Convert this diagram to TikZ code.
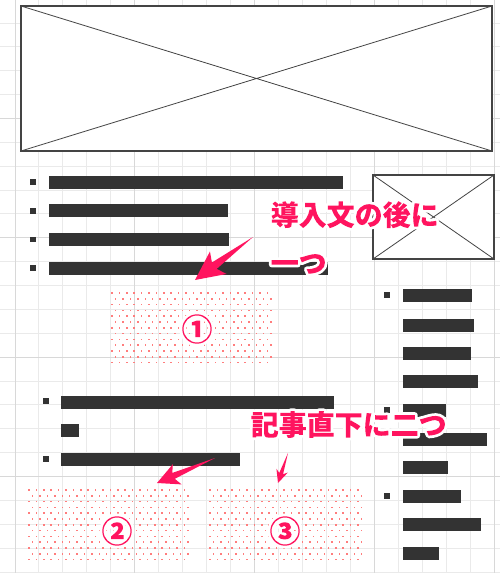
\documentclass[tikz,border=0pt]{standalone}
\usepackage{fontspec}
\usetikzlibrary{calc}
\newfontfamily\jpfont{Noto Sans CJK JP}
\definecolor{pinkc}{RGB}{255,20,95}
\definecolor{dotc}{RGB}{255,125,125}
\definecolor{barc}{RGB}{51,51,51}
\definecolor{gridminor}{RGB}{234,234,234}
\definecolor{gridmajor}{RGB}{216,216,216}
\definecolor{framec}{RGB}{68,68,68}
% white outline round glyphs: fill+stroke+clip, then refill inside the glyphs
\makeatletter
\newcommand\haloon{\pgfsys@invoke{1 1 1 RG 5.5 w 1 j 1 J 6 Tr}}
\newcommand\halooff{\pgfsys@invoke{-3000 -3000 6000 6000 re f 0 Tr}}
\makeatother
% #1 tail, #2 tip, #3 head length, #4 head half width, #5 notch length, #6 shaft half width
\newcommand\pinkarrow[6]{%
  \coordinate (#1-h) at ($(#2)!#3pt!(#1)$);
  \coordinate (#1-n) at ($(#2)!#5pt!(#1)$);
  \fill[pinkc] (#2) -- ($(#1-h)!#4pt!90:(#1)$) -- ($(#1-n)!#6pt!90:(#1)$) -- (#1)
     -- ($(#1-n)!#6pt!-90:(#1)$) -- ($(#1-h)!#4pt!-90:(#1)$) -- cycle;
}
% #1 x0, #2 y0, #3 last column, #4 last row
\newcommand\dotfield[4]{%
  \foreach \r in {0,...,#4}{\foreach \c in {0,...,#3}{%
    \fill[dotc] ({#1+\c*7.4+mod(\r,2)*3.7-0.75},{#2+\r*5.8-0.75}) rectangle ++(1.5,1.5);}}%
}
\tikzset{
  frame/.style={draw=framec, line width=1.1pt},
  cross/.style={draw=framec, line width=0.8pt},
  lbl/.style={font=\jpfont\bfseries\fontsize{28}{48}\selectfont, text=pinkc, inner sep=0pt, align=left},
  num/.style={font=\jpfont\bfseries\fontsize{31}{35}\selectfont, text=pinkc, inner sep=0pt},
}
\begin{document}
\begin{tikzpicture}[x=1pt,y=-1pt]
\useasboundingbox (0,0) rectangle (500,573);
\fill[white] (0,0) rectangle (500,573);
% grid
\foreach \k in {0,...,20}{\draw[gridminor, line width=1pt] ({15+23.95*\k},0) -- ({15+23.95*\k},573);}
\foreach \k in {0,...,23}{\draw[gridminor, line width=1pt] (0,{23+23.87*\k}) -- (500,{23+23.87*\k});}
\foreach \k in {0,5,10,15,20}{\draw[gridmajor, line width=1pt] ({15+23.95*\k},0) -- ({15+23.95*\k},573);}
\foreach \k in {4,9,14,19}{\draw[gridmajor, line width=1pt] (0,{23+23.87*\k}) -- (500,{23+23.87*\k});}
% large image placeholder
\fill[white] (21,6) rectangle (492,151);
\draw[cross] (21,6) -- (492,151) (21,151) -- (492,6);
\draw[frame] (21,6) rectangle (492,151);
% small image placeholder
\fill[white] (373,175) rectangle (494,259);
\draw[cross] (373,175) -- (494,259) (373,259) -- (494,175);
\draw[frame] (373,175) rectangle (494,259);
% first list
\foreach \y in {179,208,236.5,265}{\fill[barc] (30,\y) rectangle (36,{\y+5.5});}
\fill[barc] (49,176) rectangle (343,189);
\fill[barc] (49,204) rectangle (228,217);
\fill[barc] (49,233) rectangle (229,246);
\fill[barc] (49,262) rectangle (328,275);
% second list
\foreach \y in {398,456}{\fill[barc] (43,\y) rectangle (48.5,{\y+5.5});}
\fill[barc] (61,396) rectangle (334,409);
\fill[barc] (61,424) rectangle (79,437);
\fill[barc] (61,453) rectangle (240,466);
% right list
\foreach \y in {292,407,493}{\fill[barc] (384,\y) rectangle (390,{\y+5.5});}
\fill[barc] (403,289) rectangle (472,302);
\fill[barc] (403,319) rectangle (474,332);
\fill[barc] (403,347) rectangle (471,360);
\fill[barc] (403,375) rectangle (478,388);
\fill[barc] (403,404) rectangle (446,417);
\fill[barc] (403,433) rectangle (487,446);
\fill[barc] (403,461) rectangle (448,474);
\fill[barc] (403,490) rectangle (461,503);
\fill[barc] (403,518) rectangle (481,531);
\fill[barc] (403,547) rectangle (439,560);
% dotted ad areas
\dotfield{112}{293}{21}{12}
\dotfield{29}{490}{21}{12}
\dotfield{210}{490}{20}{12}
% circled numbers
\begin{scope}\node[num] (n1) at (197,329) {\haloon ①\halooff};\end{scope}
\begin{scope}\node[num] (n2) at (117,531) {\haloon ②\halooff};\end{scope}
\begin{scope}\node[num] (n3) at (285,531) {\haloon ③\halooff};\end{scope}
% arrows
\coordinate (a1s) at (253,237);
\coordinate (a1e) at (195,280);
\pinkarrow{a1s}{a1e}{29}{14}{24}{4}
\coordinate (a2s) at (215,458);
\coordinate (a2e) at (157,483);
\pinkarrow{a2s}{a2e}{22}{11}{18}{3.2}
\coordinate (a3s) at (288,453);
\coordinate (a3e) at (278,483);
\pinkarrow{a3s}{a3e}{13}{6}{10}{2}
% labels
\begin{scope}\node[lbl, anchor=west] (t1) at (270.5,237.5) {\haloon 導入文の後に\\一つ\halooff};\end{scope}
\begin{scope}\node[lbl, anchor=west] (t2) at (250.5,424.5) {\haloon 記事直下に二つ\halooff};\end{scope}
\end{tikzpicture}
\end{document}
